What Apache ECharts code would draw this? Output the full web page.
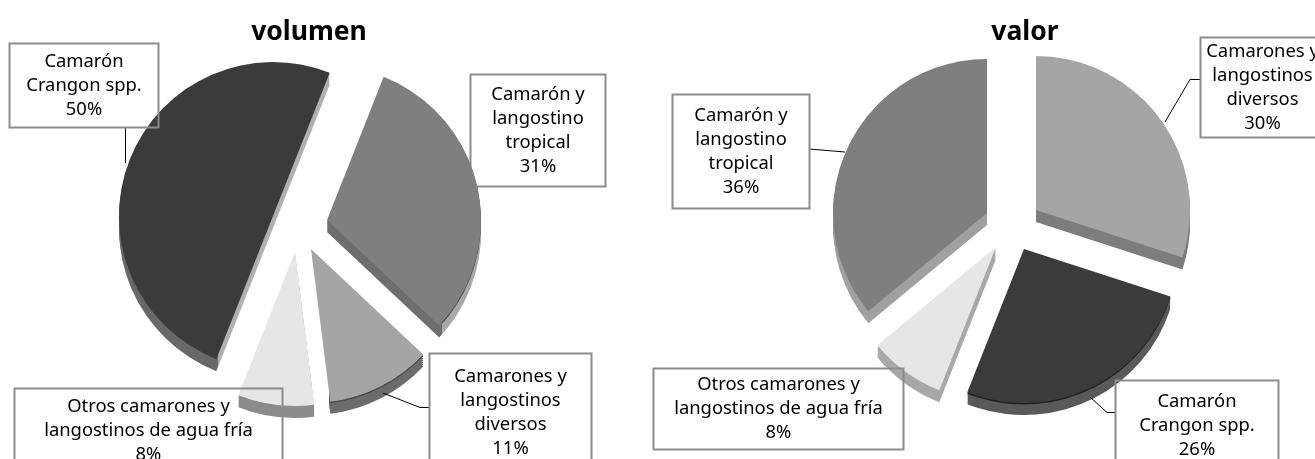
<!DOCTYPE html>
<html>
<head>
<meta charset="utf-8">
<style>html,body{margin:0;padding:0;background:#fff;overflow:hidden}#c{width:1315px;height:459px}</style>
<script src="https://cdn.jsdelivr.net/npm/echarts@6/dist/echarts.min.js"></script>
</head>
<body>
<div id="c"></div>
<script>
// ---- data ----
const volumenNames = ['Camarón y\nlangostino\ntropical', 'Camarones y\nlangostinos\ndiversos', 'Otros camarones y\nlangostinos de agua fría', 'Camarón\nCrangon spp.'];
const volumenValues = [31, 11, 8, 50];
const valorNames = ['Camarones y\nlangostinos\ndiversos', 'Camarón\nCrangon spp.', 'Otros camarones y\nlangostinos de agua fría', 'Camarón y\nlangostino\ntropical'];
const valorValues = [30, 26, 8, 36];
const titles = ['volumen', 'valor'];

// ---- layout / style ----
const NONE = 'rgba(0,0,0,0)';
const hardStop = (c1, c2, at) => ({type:'linear',x:0,y:0,x2:1,y2:0,colorStops:[{offset:0,color:c1},{offset:at,color:c1},{offset:at,color:c2},{offset:1,color:c2}]});
const pies = [
  {names: volumenNames, values: volumenValues, startAngle: 68.4, slices: [
    {center:[327,220], top:'#7f7f7f', side:hardStop('#6e6e6e','#a8a8a8',0.745), edge:hardStop(NONE,'#444444',0.745), under:true,
     box:[470,74,135,112], leader:[[470,186.5],[481,186.5]]},
    {center:[311,249], top:'#a5a5a5', side:hardStop(NONE,'#6c6c6c',0.16), edge:hardStop(NONE,'#4a4a4a',0.16),
     box:[429,353,162,118], leader:[[429,407.5],[420,407.5],[383,393]]},
    {center:[295,252], top:'#e6e6e6', side:'#8c8c8c',
     box:[14,388,268,84]},
    {center:[273,216], top:'#3b3b3b', side:hardStop('#686868','#b0b0b0',0.47),
     box:[9,43,149,84], leader:[[125.5,127],[125.5,163]]}
  ]},
  {names: valorNames, values: valorValues, startAngle: 90, slices: [
    {center:[1036,210], top:'#a5a5a5', side:'#7d7d7d',
     box:[1200,37,124,100], leader:[[1200,79.5],[1190,79.5],[1165,122]]},
    {center:[1024,249], top:'#3b3b3b', side:'#5a5a5a', edge:'#222222',
     box:[1115,380,163,90], leader:[[1115,412.5],[1107,412.5],[1090,397]]},
    {center:[996,247], top:'#e6e6e6', side:'#a8a8a8',
     box:[653,368,250,81]},
    {center:[987,213], top:'#7f7f7f', side:'#a0a0a0',
     box:[672,94,137,114], leader:[[809,149],[845,152]]}
  ]}
];
const R = 154, depths = [12, 10, 8, 6, 4, 2];

function baseSeries(pie, s, dy, colorOf) {
  return {
    type: 'pie', silent: true, animation: false, clockwise: true,
    center: [s.center[0], s.center[1] + dy], radius: [0, R],
    startAngle: pie.startAngle, percentPrecision: 0, avoidLabelOverlap: false,
    label: {show: false}, labelLine: {show: false},
    data: pie.values.map((v, i) => ({
      value: v, name: pie.names[i],
      itemStyle: {color: colorOf(i), borderWidth: 0},
      label: {show: false}, labelLine: {show: false}
    }))
  };
}
function sliceSeries(pie, idx, dy, color) {
  return baseSeries(pie, pie.slices[idx], dy, i => i === idx ? color : NONE);
}
// transparent host sector that carries the boxed label and its leader line
function labelSeries(pie, idx) {
  const s = pie.slices[idx];
  const out = baseSeries(pie, s, 0, () => NONE);
  out.z = s.under ? 1 : 3;
  out.labelLayout = () => {
    const o = {x: s.box[0] + s.box[2] / 2 + 0.5, y: s.box[1] + s.box[3] / 2 + 0.5, align: 'center', verticalAlign: 'middle'};
    if (s.leader) o.labelLinePoints = s.leader;
    return o;
  };
  const item = out.data[idx];
  item.label = {
    show: true, position: 'outside', formatter: '{b}\n{d}%',
    color: '#000', fontFamily: 'Noto Sans', fontSize: 18.4, lineHeight: 24, align: 'center', verticalAlign: 'middle',
    width: s.box[2], height: s.box[3], backgroundColor: 'transparent', borderColor: '#8c8c8c', borderWidth: 1, overflow: 'none'
  };
  item.labelLine = {show: !!s.leader, length: 8, length2: 8, lineStyle: {color: '#000', width: 1}};
  return out;
}

const series = [];
pies.forEach(pie => {
  pie.slices.forEach((s, i) => depths.forEach(d => series.push(sliceSeries(pie, i, d, s.side))));
  pie.slices.forEach((s, i) => { if (s.edge) series.push(sliceSeries(pie, i, 1.5, s.edge)); });
  pie.slices.forEach((s, i) => series.push(sliceSeries(pie, i, 0, s.top)));
  pie.slices.forEach((s, i) => series.push(labelSeries(pie, i)));
});

const chart = echarts.init(document.getElementById('c'), null, {renderer: 'canvas'});
const titleStyle = {fontFamily: 'Noto Sans', fontWeight: 'bold', fontSize: 26.5, color: '#000'};
chart.setOption({
  backgroundColor: '#fff',
  animation: false,
  title: [
    {text: titles[0], left: 304, top: 14, textAlign: 'center', textStyle: titleStyle},
    {text: titles[1], left: 1020, top: 14, textAlign: 'center', textStyle: titleStyle}
  ],
  series
});
</script>
</body>
</html>
